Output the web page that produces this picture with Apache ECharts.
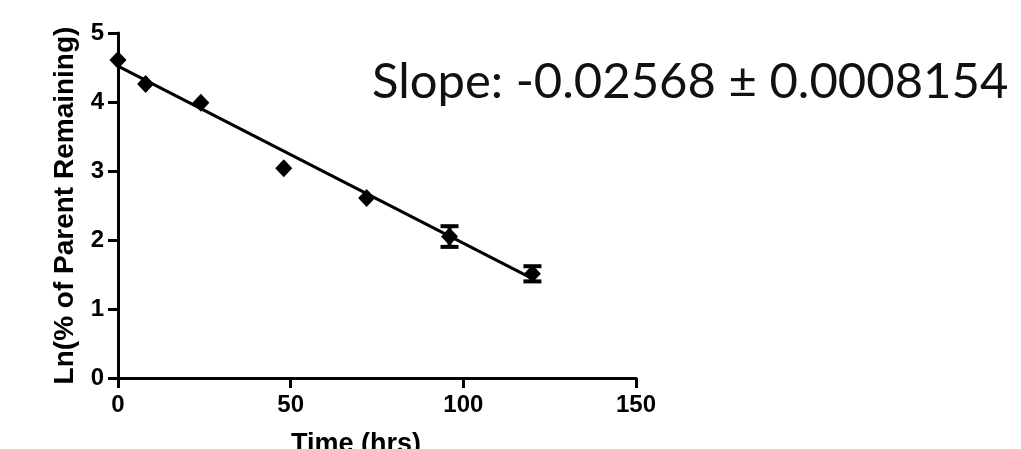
<!DOCTYPE html>
<html>
<head>
<meta charset="utf-8">
<script src="https://cdn.jsdelivr.net/npm/echarts@6/dist/echarts.min.js"></script>
<style>
  html, body { margin: 0; padding: 0; background: #fff; }
  #chart { width: 1021px; height: 449px; }
</style>
</head>
<body>
<div id="chart"></div>
<script>
const timeHrs = [0, 8, 24, 48, 72, 96, 120];
const lnRemaining = [4.61, 4.26, 3.99, 3.04, 2.61, 2.05, 1.51];
const errSize = [0, 0, 0, 0, 0, 0.15, 0.11];
const fitX = [0, 120];
const fitY = [4.52, 1.44];
const xTicks = [0, 50, 100, 150];
const slopeText = 'Slope: -0.02568 \u00b1 0.0008154';

const chart = echarts.init(document.getElementById('chart'));

const pointData = timeHrs.map((t, i) => [t, lnRemaining[i]]);
const errData = timeHrs.map((t, i) => [t, lnRemaining[i] - errSize[i], lnRemaining[i] + errSize[i]])
    .filter((d, i) => errSize[i] > 0);
const fitData = fitX.map((x, i) => [x, fitY[i]]);

const axisFont = { fontFamily: 'Liberation Sans, Arial, sans-serif', fontWeight: 'bold', color: '#000' };

const option = {
    animation: false,
    backgroundColor: '#fff',
    grid: { left: 118, right: 385, top: 33, bottom: 71, outerBoundsMode: 'none', containLabel: false },
    xAxis: {
        type: 'value',
        min: 0, max: 150, interval: 50,
        name: 'Time (hrs)',
        nameLocation: 'middle',
        nameGap: 53,
        nameTextStyle: Object.assign({ fontSize: 27, padding: [0, 42, 0, 0] }, axisFont),
        axisLine: { show: true, lineStyle: { color: '#000', width: 3 } },
        axisTick: { show: true, length: 10, lineStyle: { color: '#000', width: 3 } },
        axisLabel: Object.assign({ fontSize: 24, margin: 15,
            formatter: v => xTicks.includes(v) ? String(v) : '' }, axisFont),
        splitLine: { show: false }
    },
    yAxis: {
        type: 'value',
        min: 0, max: 5, interval: 1,
        name: 'Ln(% of Parent Remaining)',
        nameLocation: 'middle',
        nameGap: 38,
        nameTextStyle: Object.assign({ fontSize: 28 }, axisFont),
        axisLine: { show: true, lineStyle: { color: '#000', width: 3 } },
        axisTick: { show: true, length: 10, lineStyle: { color: '#000', width: 3 } },
        axisLabel: Object.assign({ fontSize: 24, margin: 14 }, axisFont),
        splitLine: { show: false }
    },
    graphic: [{
        type: 'text',
        left: 372, top: 58,
        style: {
            text: slopeText,
            font: '49px Lato, "Open Sans", sans-serif',
            fill: '#111'
        }
    }],
    series: [
        {
            type: 'line',
            data: fitData,
            symbol: 'none',
            lineStyle: { color: '#000', width: 3 },
            z: 2
        },
        {
            type: 'custom',
            data: errData,
            renderItem: function (params, api) {
                const x = api.value(0);
                const lo = api.coord([x, api.value(1)]);
                const hi = api.coord([x, api.value(2)]);
                const half = 9;
                const st = { stroke: '#000', lineWidth: 4 };
                return {
                    type: 'group',
                    children: [
                        { type: 'line', shape: { x1: lo[0], y1: lo[1], x2: hi[0], y2: hi[1] }, style: st },
                        { type: 'line', shape: { x1: lo[0] - half, y1: lo[1], x2: lo[0] + half, y2: lo[1] }, style: st },
                        { type: 'line', shape: { x1: hi[0] - half, y1: hi[1], x2: hi[0] + half, y2: hi[1] }, style: st }
                    ]
                };
            },
            z: 3
        },
        {
            type: 'scatter',
            data: pointData,
            symbol: 'diamond',
            symbolSize: [17, 18],
            itemStyle: { color: '#000', opacity: 1 },
            z: 4
        }
    ]
};

chart.setOption(option);
</script>
</body>
</html>
